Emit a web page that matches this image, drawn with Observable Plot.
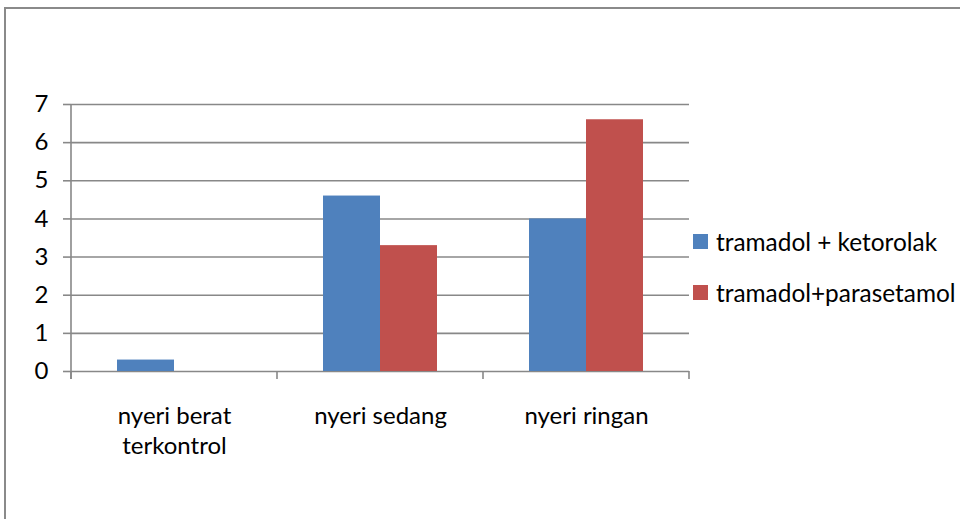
<!DOCTYPE html>
<html>
<head>
<meta charset="utf-8">
<script src="https://cdn.jsdelivr.net/npm/d3@7"></script>
<script src="https://cdn.jsdelivr.net/npm/@observablehq/plot@0.6"></script>
<style>
  html, body { margin: 0; padding: 0; background: #fff; overflow: hidden; }
  #wrap { position: relative; width: 960px; height: 519px; overflow: hidden; font-family: Lato, "Open Sans", sans-serif; }
  #border { position: absolute; left: 4px; top: 7px; width: 2000px; height: 2000px; border: 2px solid #8a8a8a; box-sizing: border-box; pointer-events: none; }
  #legend { position: absolute; left: 693px; top: 226px; font-size: 24.4px; color: #000; white-space: nowrap; }
  .item { display: flex; align-items: center; height: 30px; margin-bottom: 21px; }
  .sw { width: 15px; height: 15px; margin-right: 8px; flex: none; }
</style>
</head>
<body>
<div id="wrap"><div id="chart"></div><div id="legend"></div><div id="border"></div></div>
<script>
const categories = ["nyeri berat terkontrol", "nyeri sedang", "nyeri ringan"];
const categoryLabels = ["nyeri berat\nterkontrol", "nyeri sedang", "nyeri ringan"];
const series = ["tramadol + ketorolak", "tramadol+parasetamol"];
const ketorolak = [0.3, 4.6, 4.0];
const parasetamol = [0, 3.3, 6.6];
const yTicks = [0, 1, 2, 3, 4, 5, 6, 7];
const colors = ["#4f81bd", "#c0504d"];

const data = categories.flatMap((c, i) => [
  {category: c, series: series[0], value: ketorolak[i]},
  {category: c, series: series[1], value: parasetamol[i]}
]);
const labelOf = new Map(categories.map((c, i) => [c, categoryLabels[i]]));

const gray = "#888888";
const chart = Plot.plot({
  width: 960,
  height: 519,
  marginLeft: 71,
  marginRight: 271,
  marginTop: 104,
  marginBottom: 148,
  style: {fontFamily: "Lato, 'Open Sans', sans-serif", fontSize: "24px", color: "#000", background: "transparent", overflow: "visible"},
  fx: {domain: categories, padding: 0, label: null},
  x: {domain: series, axis: null, paddingInner: 0, paddingOuter: 0.776},
  y: {domain: [0, 7], label: null},
  color: {domain: series, range: colors},
  marks: [
    Plot.gridY(yTicks, {stroke: gray, strokeOpacity: 1, strokeWidth: 1.6}),
    Plot.barY(data, {fx: "category", x: "series", y: "value", fill: "series"}),
    Plot.axisY(yTicks, {tickSize: 8, tickPadding: 15, stroke: gray, strokeWidth: 1.6, fontSize: 24, label: null, tickFormat: d => String(d)}),
    Plot.axisFx({anchor: "bottom", tickSize: 0, tickPadding: 31, fontSize: 24, lineHeight: 1.25, label: null, tickFormat: d => labelOf.get(d)})
  ]
});
document.getElementById("chart").appendChild(chart);

// axis line and category boundary ticks from the library's own scales
const fx = chart.scale("fx");
const ys = chart.scale("y");
const svg = d3.select(chart);
const starts = categories.map(c => fx.apply(c));
const bw = fx.bandwidth;
const bounds = starts.concat([starts[starts.length - 1] + bw]);
const y0 = ys.apply(0), y7 = ys.apply(7);
const g = svg.append("g").attr("stroke", gray).attr("stroke-width", 1.6);
g.append("line").attr("x1", starts[0]).attr("x2", starts[0]).attr("y1", y7).attr("y2", y0 + 8);
bounds.forEach(b => g.append("line").attr("x1", b).attr("x2", b).attr("y1", y0).attr("y2", y0 + 8));

// legend
const legend = d3.select("#legend");
series.forEach((s, i) => {
  const it = legend.append("div").attr("class", "item");
  it.append("div").attr("class", "sw").style("background", colors[i]);
  it.append("span").text(s);
});
</script>
</body>
</html>
